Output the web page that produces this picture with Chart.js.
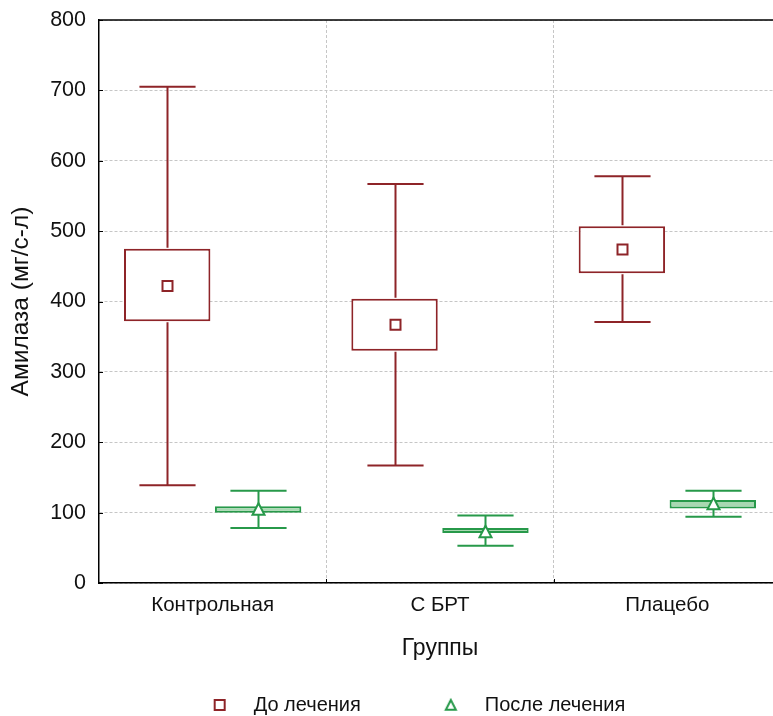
<!DOCTYPE html>
<html>
<head>
<meta charset="utf-8">
<script src="https://cdn.jsdelivr.net/npm/chart.js@4"></script>
<style>
html,body{margin:0;padding:0;overflow:hidden;background:#fff}
#wrap{width:785px;height:716px}
</style>
</head>
<body>
<div id="wrap"><canvas id="c" width="785" height="716"></canvas></div>
<script>
// ---- data ----
const categories = ['Контрольная', 'С БРТ', 'Плацебо'];
const seriesNames = ['До лечения', 'После лечения'];
const beforeMin  = [139, 167, 371];
const beforeQ1   = [372, 330, 440];
const beforeMean = [422, 367, 474];
const beforeQ3   = [475, 404, 507];
const beforeMax  = [705, 567, 578];
const afterMin   = [78, 53, 94];
const afterQ1    = [100, 71, 106];
const afterMean  = [104, 72, 112];
const afterQ3    = [109, 78, 118];
const afterMax   = [131, 96, 131];
const yTickValues = [0, 100, 200, 300, 400, 500, 600, 700, 800];
const xTitle = 'Группы';
const yTitle = 'Амилаза (мг/с-л)';

// ---- styles ----
const RED = '#8e2428';
const GREEN = '#27994a';
const GREEN_FILL = '#a8d8b2';
const FONT = '"Liberation Sans", Arial, sans-serif';
const TEXT = '#111';
Chart.defaults.font.family = FONT;

function drawSquare(ctx, x, y, s) {
  ctx.beginPath();
  ctx.rect(x - s / 2, y - s / 2, s, s);
  ctx.fill(); ctx.stroke();
}
function drawTriangle(ctx, x, y, s) {
  ctx.beginPath();
  ctx.moveTo(x, y - s * 0.55);
  ctx.lineTo(x + s / 2, y + s * 0.42);
  ctx.lineTo(x - s / 2, y + s * 0.42);
  ctx.closePath();
  ctx.fill(); ctx.stroke();
}

const LEG_BOX = 88;
function legendImage(shape, color) {
  const c = document.createElement('canvas');
  c.width = LEG_BOX - 30; c.height = 16;
  const g = c.getContext('2d');
  g.strokeStyle = color; g.fillStyle = '#fff'; g.lineWidth = 2;
  if (shape === 'square') drawSquare(g, c.width - 9, 8, 10);
  else drawTriangle(g, c.width - 9, 8.5, 10);
  return c;
}
const legendImgs = [legendImage('square', RED), legendImage('triangle', GREEN)];

const groups = [
  {min: beforeMin, q1: beforeQ1, mean: beforeMean, q3: beforeQ3, max: beforeMax, color: RED, shape: 'square'},
  {min: afterMin, q1: afterQ1, mean: afterMean, q3: afterQ3, max: afterMax, color: GREEN, shape: 'triangle'}
];

const extras = {
  id: 'boxExtras',
  afterDatasetsDraw(chart) {
    const ctx = chart.ctx;
    const ys = chart.scales.y;
    groups.forEach((g, di) => {
      const meta = chart.getDatasetMeta(di);
      meta.data.forEach((bar, i) => {
        const x = Math.round(bar.x) + 0.5;
        const cap = bar.width * 0.65;
        const yMax = ys.getPixelForValue(g.max[i]);
        const yMin = ys.getPixelForValue(g.min[i]);
        const yQ1 = ys.getPixelForValue(g.q1[i]);
        const yQ3 = ys.getPixelForValue(g.q3[i]);
        ctx.save();
        ctx.strokeStyle = g.color;
        ctx.lineWidth = 2;
        ctx.beginPath();
        ctx.moveTo(x, yQ3 - 1); ctx.lineTo(x, yMax);
        ctx.moveTo(x - cap / 2, yMax); ctx.lineTo(x + cap / 2, yMax);
        ctx.moveTo(x, yQ1 + 1); ctx.lineTo(x, yMin);
        ctx.moveTo(x - cap / 2, yMin); ctx.lineTo(x + cap / 2, yMin);
        ctx.stroke();
        ctx.fillStyle = '#fff';
        const ym = ys.getPixelForValue(g.mean[i]);
        if (g.shape === 'square') drawSquare(ctx, x, ym, 10);
        else drawTriangle(ctx, x, ym, 12);
        ctx.restore();
      });
    });
    // top frame line and inner tick marks
    const a = chart.chartArea;
    ctx.save();
    ctx.strokeStyle = '#000';
    ctx.lineWidth = 1.5;
    ctx.beginPath();
    ctx.moveTo(a.left, a.top); ctx.lineTo(a.right, a.top);
    ctx.stroke();
    ctx.lineWidth = 1;
    ctx.beginPath();
    ys.ticks.forEach(t => {
      const py = Math.round(ys.getPixelForValue(t.value)) + 0.5;
      ctx.moveTo(a.left, py); ctx.lineTo(a.left + 4, py);
    });
    const xs = chart.scales.x;
    for (let i = 1; i < categories.length; i++) {
      const px = Math.round((xs.getPixelForValue(i - 1) + xs.getPixelForValue(i)) / 2) + 0.5;
      ctx.moveTo(px, a.bottom); ctx.lineTo(px, a.bottom - 4);
    }
    ctx.stroke();
    ctx.restore();
  }
};

const gridColor = '#c6c6c6';

new Chart(document.getElementById('c'), {
  type: 'bar',
  data: {
    labels: categories,
    datasets: [
      {
        label: seriesNames[0],
        data: beforeQ1.map((v, i) => [v, beforeQ3[i]]),
        backgroundColor: '#ffffff',
        borderColor: RED,
        borderWidth: 2,
        borderSkipped: false,
        categoryPercentage: 0.8,
        barPercentage: 0.95
      },
      {
        label: seriesNames[1],
        data: afterQ1.map((v, i) => [v, afterQ3[i]]),
        backgroundColor: GREEN_FILL,
        borderColor: GREEN,
        borderWidth: 2,
        borderSkipped: false,
        categoryPercentage: 0.8,
        barPercentage: 0.95
      }
    ]
  },
  options: {
    responsive: false,
    animation: false,
    devicePixelRatio: 1,
    layout: {padding: {top: 20, left: 0, right: 4, bottom: 0}},
    scales: {
      x: {
        type: 'category',
        offset: true,
        grid: {color: gridColor, lineWidth: 1, drawTicks: false, offset: true},
        border: {display: true, color: '#000', width: 1.5, dash: [3, 2]},
        ticks: {color: TEXT, font: {size: 20.5}, padding: 10},
        title: {display: true, text: xTitle, color: TEXT, font: {size: 23}, padding: {top: 0, bottom: 7}},
        afterFit: s => { s.height = 86; s.paddingLeft = 0; s.paddingRight = 0; }
      },
      y: {
        min: 0, max: 800,
        afterBuildTicks: s => { s.ticks = yTickValues.map(v => ({value: v})); },
        grid: {color: gridColor, lineWidth: 1, drawTicks: false},
        border: {display: true, color: '#000', width: 1.5, dash: [3, 2]},
        ticks: {color: TEXT, font: {size: 21.5}, padding: 13},
        title: {display: true, text: yTitle, color: TEXT, font: {size: 24.5}, padding: {top: 7, bottom: 0}},
        afterFit: s => { s.width = 99; s.paddingTop = 0; s.paddingBottom = 0; }
      }
    },
    plugins: {
      tooltip: {enabled: false},
      legend: {
        position: 'bottom',
        maxHeight: 47,
        labels: {
          usePointStyle: true,
          pointStyleWidth: LEG_BOX,
          padding: 26,
          color: TEXT,
          font: {size: 20},
          generateLabels: () => seriesNames.map((n, i) => ({
            text: n, datasetIndex: i, pointStyle: legendImgs[i],
            fillStyle: '#fff', strokeStyle: groups[i].color, lineWidth: 2, hidden: false, fontColor: TEXT
          }))
        }
      }
    }
  },
  plugins: [extras]
});
</script>
</body>
</html>
